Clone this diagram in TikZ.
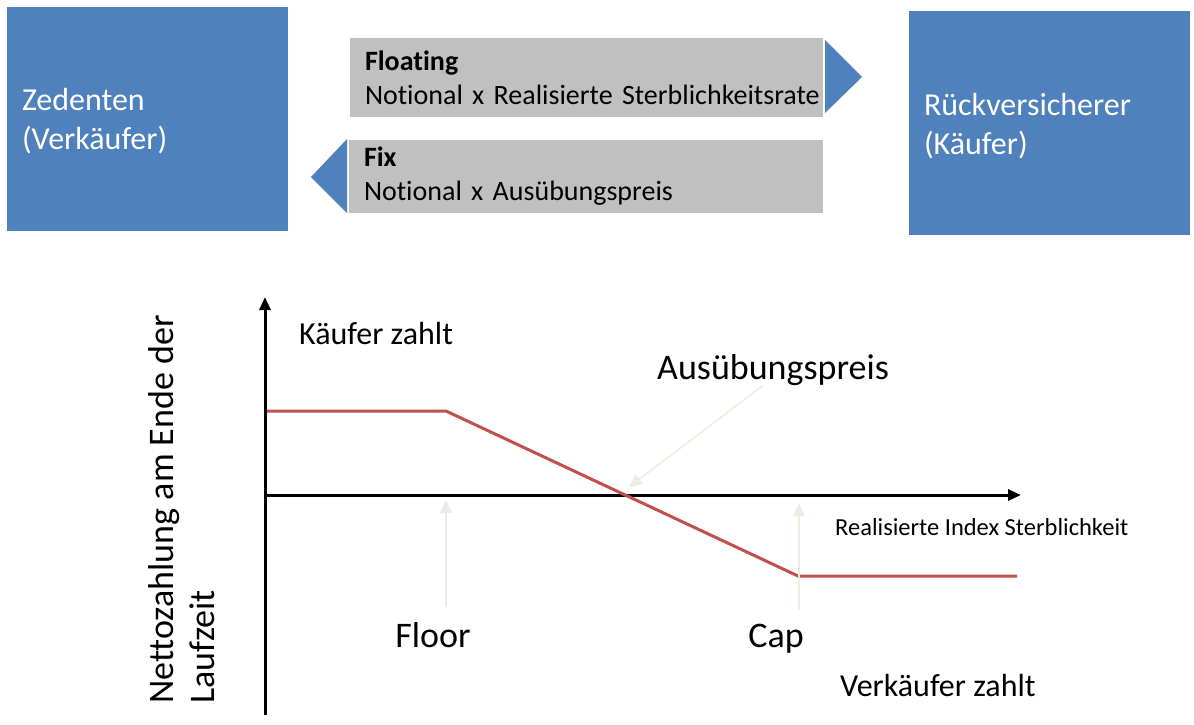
\documentclass[tikz,border=0pt]{standalone}
\usepackage{fontspec}
\setmainfont[Ligatures={NoCommon}]{Carlito}
\usetikzlibrary{arrows.meta}
\definecolor{swapcolor0001}{RGB}{79,129,189}
\definecolor{swapcolor0002}{RGB}{192,192,192}
\definecolor{swapcolor0003}{RGB}{192,80,77}
\definecolor{swapcolor0004}{RGB}{238,236,225}

\begin{document}
\begin{tikzpicture}[yscale=-1
,sstyle0/.style={fill=swapcolor0001,text=white,align=left,inner xsep=15pt,inner ysep=0pt,minimum height=224pt,font=\fontsize{32}{39}\selectfont}
,sstyle1/.style={fill=swapcolor0002,align=left,inner xsep=15pt,inner ysep=0pt,font=\fontsize{28}{34}\selectfont}
,sstyle2/.style={fill=swapcolor0001}
,sstyle3/.style={color=black,line width=3pt,-{Triangle[length=13pt,width=11pt]}}
,sstyle4/.style={color=swapcolor0003,line width=3pt}
,sstyle5/.style={color=swapcolor0004,line width=1.5pt,-{Triangle[length=13pt,width=12pt]}}
,sstyle6/.style={inner sep=0,anchor=base west}
]
\useasboundingbox (0pt,0pt) rectangle (1194pt,724pt);
% parties
\node[sstyle0,text width=251pt] (zed) at (147.5pt,119pt) {\rule{0pt}{26.4pt}Zedenten\\(Verkäufer)};
\node[sstyle0,text width=251pt] (rueck) at (1049.5pt,123pt) {\rule{0pt}{28.4pt}Rückversicherer\\(Käufer)};
% payment legs
\node[sstyle1,text width=443pt,minimum height=79pt] (floating) at (586.5pt,77.5pt) {\textbf{Floating}\\\mbox{Notional x Realisierte Sterblichkeitsrate}};
\fill[sstyle2] (825pt,40pt) -- (862pt,77pt) -- (825pt,113pt) -- cycle;
\node[sstyle1,text width=444pt,minimum height=73pt] (fix) at (586pt,176.5pt) {\textbf{Fix}\\Notional x Ausübungspreis};
\fill[sstyle2] (347pt,139pt) -- (311pt,177pt) -- (347pt,213pt) -- cycle;
% payoff chart
\coordinate (ybot) at (265pt,715pt);
\coordinate (ytop) at (265pt,297pt);
\coordinate (xleft) at (265pt,495pt);
\coordinate (xright) at (1021pt,495pt);
\draw[sstyle3] (ybot) -- (ytop);
\draw[sstyle3] (xleft) -- (xright);
\coordinate (p0) at (267pt,411pt);
\coordinate (floorpt) at (446pt,411pt);
\coordinate (cappt) at (798pt,576pt);
\coordinate (p3) at (1017pt,576pt);
\draw[sstyle4] (p0) -- (floorpt) -- (cappt) -- (p3);
\node[sstyle6,font=\fontsize{32}{38}\selectfont] (kzahlt) at (299pt,344pt) {Käufer zahlt};
\node[sstyle6,font=\fontsize{36}{43}\selectfont] (ausueb) at (657pt,379pt) {Ausübungspreis};
\node[sstyle6,font=\fontsize{24.5}{29}\selectfont] (xlabel) at (835pt,535pt) {Realisierte Index Sterblichkeit};
\node[inner sep=0,anchor=base,font=\fontsize{36}{43}\selectfont] (floorlbl) at (433pt,647pt) {Floor};
\node[inner sep=0,anchor=base,font=\fontsize{36}{43}\selectfont] (caplbl) at (776pt,647pt) {Cap};
\node[sstyle6,font=\fontsize{32}{38}\selectfont] (vzahlt) at (840pt,696pt) {Verkäufer zahlt};
\node[inner sep=0,anchor=north west,rotate=90,align=left,font=\fontsize{36}{41}\selectfont] (ylabel) at (148pt,704pt) {Nettozahlung am Ende der\\Laufzeit};
\coordinate (strike) at (629pt,487pt);
\coordinate (floorbot) at (446pt,607pt);
\coordinate (floortip) at (446pt,500pt);
\coordinate (capbot) at (799pt,610pt);
\coordinate (captip) at (799pt,503pt);
\draw[sstyle5] ([xshift=-10pt]ausueb.south) -- (strike);
\draw[sstyle5] (floorbot) -- (floortip);
\draw[sstyle5] (capbot) -- (captip);
\end{tikzpicture}
\end{document}
